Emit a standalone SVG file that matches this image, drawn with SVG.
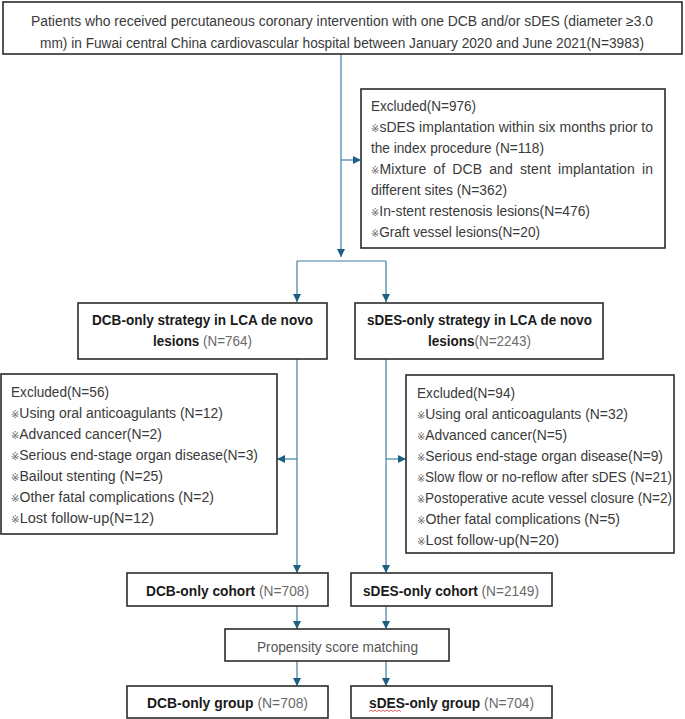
<svg xmlns="http://www.w3.org/2000/svg" width="685" height="719" viewBox="0 0 685 719">
<style>
.box{fill:#fff;stroke:#2b2b2b;stroke-width:1.6}
.t{font-family:"Liberation Sans","DejaVu Sans",sans-serif;font-size:14px;fill:#3a3a3a}
.b{font-weight:bold;fill:#1a1a1a}
.g{fill:#6a6a6a;font-weight:normal}
.m{font-size:10px;fill:#666}
.c{fill:none;stroke:#3d7fa3;stroke-width:1.2}
</style>
<defs>
<marker id="ah" viewBox="0 0 10 10" refX="10" refY="5" markerWidth="9" markerHeight="8" markerUnits="userSpaceOnUse" orient="auto">
<path d="M0,0 L10,5 L0,10 z" fill="#1c5f82"/>
</marker>
</defs>
<rect width="685" height="719" fill="#fff"/>

<g id="connectors">
<path class="c" d="M341,54 V257" marker-end="url(#ah)"/>
<path class="c" d="M341,160 H361" marker-end="url(#ah)"/>
<path class="c" d="M297,261 H386"/>
<path class="c" d="M297,261 V302" marker-end="url(#ah)"/>
<path class="c" d="M386,261 V302" marker-end="url(#ah)"/>
<path class="c" d="M297,359 V573" marker-end="url(#ah)"/>
<path class="c" d="M297,459 H277" marker-end="url(#ah)"/>
<path class="c" d="M386,359 V573" marker-end="url(#ah)"/>
<path class="c" d="M386,459 H406" marker-end="url(#ah)"/>
<path class="c" d="M297,606 V629" marker-end="url(#ah)"/>
<path class="c" d="M386,606 V629" marker-end="url(#ah)"/>
<path class="c" d="M297,661 V686" marker-end="url(#ah)"/>
<path class="c" d="M386,661 V686" marker-end="url(#ah)"/>
</g>

<g id="patients">
<rect class="box" x="3" y="2" width="679" height="52"/>
<text class="t" x="31" y="26" textLength="622" lengthAdjust="spacingAndGlyphs">Patients who received percutaneous coronary intervention with one DCB and/or sDES (diameter ≥3.0</text>
<text class="t" x="40" y="48" textLength="604" lengthAdjust="spacingAndGlyphs">mm) in Fuwai central China cardiovascular hospital between January 2020 and June 2021(N=3983)</text>
</g>

<g id="excluded1">
<rect class="box" x="361" y="89" width="304" height="159"/>
<text class="t" x="371" y="111" textLength="105" lengthAdjust="spacingAndGlyphs">Excluded(N=976)</text>
<text class="t" x="371" y="132" textLength="282" lengthAdjust="spacing"><tspan class="m">※</tspan>sDES implantation within six months prior to</text>
<text class="t" x="371" y="153" textLength="173" lengthAdjust="spacingAndGlyphs">the index procedure (N=118)</text>
<text class="t" x="371" y="174" textLength="282" lengthAdjust="spacing" word-spacing="3"><tspan class="m">※</tspan>Mixture of DCB and stent implantation in</text>
<text class="t" x="371" y="195" textLength="136" lengthAdjust="spacingAndGlyphs">different sites (N=362)</text>
<text class="t" x="371" y="216" textLength="219" lengthAdjust="spacingAndGlyphs"><tspan class="m">※</tspan>In-stent restenosis lesions(N=476)</text>
<text class="t" x="371" y="237" textLength="169" lengthAdjust="spacingAndGlyphs"><tspan class="m">※</tspan>Graft vessel lesions(N=20)</text>
</g>

<g id="dcb-strategy">
<rect class="box" x="78" y="303" width="249" height="56"/>
<text class="t b" x="92" y="325" textLength="221" lengthAdjust="spacingAndGlyphs">DCB-only strategy in LCA de novo</text>
<text class="t b" x="153" y="346" textLength="99" lengthAdjust="spacingAndGlyphs">lesions<tspan class="g"> (N=764)</tspan></text>
</g>

<g id="sdes-strategy">
<rect class="box" x="355" y="303" width="248" height="56"/>
<text class="t b" x="367" y="325" textLength="225" lengthAdjust="spacingAndGlyphs">sDES-only strategy in LCA de novo</text>
<text class="t b" x="428" y="346" textLength="103" lengthAdjust="spacingAndGlyphs">lesions<tspan class="g">(N=2243)</tspan></text>
</g>

<g id="excluded-dcb">
<rect class="box" x="1" y="374" width="276" height="160"/>
<text class="t" x="11" y="397" textLength="98" lengthAdjust="spacingAndGlyphs">Excluded(N=56)</text>
<text class="t" x="11" y="418" textLength="212" lengthAdjust="spacingAndGlyphs"><tspan class="m">※</tspan>Using oral anticoagulants (N=12)</text>
<text class="t" x="11" y="439" textLength="151" lengthAdjust="spacingAndGlyphs"><tspan class="m">※</tspan>Advanced cancer(N=2)</text>
<text class="t" x="11" y="460" textLength="247" lengthAdjust="spacingAndGlyphs"><tspan class="m">※</tspan>Serious end-stage organ disease(N=3)</text>
<text class="t" x="11" y="481" textLength="152" lengthAdjust="spacingAndGlyphs"><tspan class="m">※</tspan>Bailout stenting (N=25)</text>
<text class="t" x="11" y="502" textLength="203" lengthAdjust="spacingAndGlyphs"><tspan class="m">※</tspan>Other fatal complications (N=2)</text>
<text class="t" x="11" y="523" textLength="143" lengthAdjust="spacingAndGlyphs"><tspan class="m">※</tspan>Lost follow-up(N=12)</text>
</g>

<g id="excluded-sdes">
<rect class="box" x="406" y="375" width="268" height="178"/>
<text class="t" x="417" y="398" textLength="98" lengthAdjust="spacingAndGlyphs">Excluded(N=94)</text>
<text class="t" x="417" y="419" textLength="211" lengthAdjust="spacingAndGlyphs"><tspan class="m">※</tspan>Using oral anticoagulants (N=32)</text>
<text class="t" x="417" y="440" textLength="150" lengthAdjust="spacingAndGlyphs"><tspan class="m">※</tspan>Advanced cancer(N=5)</text>
<text class="t" x="417" y="461" textLength="246" lengthAdjust="spacingAndGlyphs"><tspan class="m">※</tspan>Serious end-stage organ disease(N=9)</text>
<text class="t" x="417" y="482" textLength="255" lengthAdjust="spacingAndGlyphs"><tspan class="m">※</tspan>Slow flow or no-reflow after sDES (N=21)</text>
<text class="t" x="417" y="503" textLength="255" lengthAdjust="spacingAndGlyphs"><tspan class="m">※</tspan>Postoperative acute vessel closure (N=2)</text>
<text class="t" x="417" y="524" textLength="203" lengthAdjust="spacingAndGlyphs"><tspan class="m">※</tspan>Other fatal complications (N=5)</text>
<text class="t" x="417" y="545" textLength="142" lengthAdjust="spacingAndGlyphs"><tspan class="m">※</tspan>Lost follow-up(N=20)</text>
</g>

<g id="dcb-cohort">
<rect class="box" x="127" y="573" width="201" height="33"/>
<text class="t b" x="146" y="596" textLength="163" lengthAdjust="spacingAndGlyphs">DCB-only cohort<tspan class="g"> (N=708)</tspan></text>
</g>

<g id="sdes-cohort">
<rect class="box" x="351" y="573" width="201" height="33"/>
<text class="t b" x="363" y="596" textLength="176" lengthAdjust="spacingAndGlyphs">sDES-only cohort<tspan class="g"> (N=2149)</tspan></text>
</g>

<g id="psm">
<rect class="box" x="225" y="629" width="224" height="32"/>
<text class="t" x="257" y="652" textLength="161" lengthAdjust="spacingAndGlyphs" style="fill:#555">Propensity score matching</text>
</g>

<g id="dcb-group">
<rect class="box" x="127" y="686" width="201" height="32"/>
<text class="t b" x="147" y="708" textLength="161" lengthAdjust="spacingAndGlyphs">DCB-only group<tspan class="g"> (N=708)</tspan></text>
</g>

<g id="sdes-group">
<rect class="box" x="351" y="686" width="201" height="32"/>
<text class="t b" x="369" y="708" textLength="165" lengthAdjust="spacingAndGlyphs">sDES-only group<tspan class="g"> (N=704)</tspan></text>
<path d="M369,711.5 l2,-1.5 l2,1.5 l2,-1.5 l2,1.5 l2,-1.5 l2,1.5 l2,-1.5 l2,1.5 l2,-1.5 l2,1.5 l2,-1.5 l2,1.5 l2,-1.5 l2,1.5 l2,-1.5 l2,1.5" fill="none" stroke="#e03030" stroke-width="0.8"/>
</g>
</svg>
